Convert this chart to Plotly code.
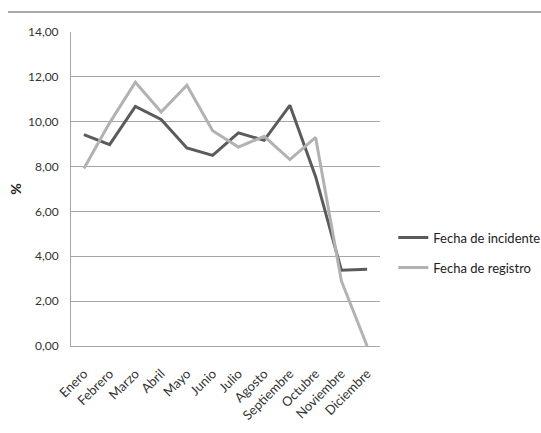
import plotly.graph_objects as go

meses = ["Enero", "Febrero", "Marzo", "Abril", "Mayo", "Junio", "Julio",
         "Agosto", "Septiembre", "Octubre", "Noviembre", "Diciembre"]
fecha_incidente = [9.42, 8.98, 10.68, 10.10, 8.83, 8.50, 9.50, 9.17, 10.73, 7.55, 3.38, 3.42]
fecha_registro = [7.91, 9.95, 11.76, 10.43, 11.63, 9.60, 8.87, 9.35, 8.31, 9.30, 2.90, 0.00]
y_ticks = [0, 2, 4, 6, 8, 10, 12, 14]
y_tick_text = ["0,00", "2,00", "4,00", "6,00", "8,00", "10,00", "12,00", "14,00"]

FONT = "Lato, Open Sans, sans-serif"

fig = go.Figure()
fig.add_trace(go.Scatter(x=meses, y=fecha_incidente, mode="lines",
                         name="Fecha de incidente", legendgroup="a",
                         line=dict(color="#5b5b5b", width=3)))
fig.add_trace(go.Scatter(x=meses, y=fecha_registro, mode="lines",
                         name="Fecha de registro", legendgroup="b",
                         line=dict(color="#b2b2b2", width=3)))

# thin rule across the top of the page
fig.add_shape(type="line", xref="paper", yref="paper",
              x0=-0.204, x1=1.53, y0=1.064, y1=1.064,
              line=dict(color="#8c8c8c", width=1.5))

fig.update_layout(
    width=541, height=433,
    margin=dict(l=71, r=161, t=32, b=87, autoexpand=False),
    paper_bgcolor="white", plot_bgcolor="white",
    font=dict(family=FONT, size=13, color="#333333"),
    showlegend=True,
    legend=dict(x=1.043, y=0.393, xanchor="left", yanchor="top",
                tracegroupgap=10, itemwidth=30,
                font=dict(family=FONT, size=13, color="#222222")),
    xaxis=dict(type="category", tickangle=-45, showgrid=False,
               showline=True, linecolor="#a6a6a6", linewidth=1,
               ticks="", range=[-0.5, 11.5], ticklabelstandoff=14,
               tickfont=dict(family=FONT, size=13, color="#333333")),
    yaxis=dict(range=[0, 14], tickvals=y_ticks, ticktext=y_tick_text,
               showgrid=True, gridcolor="#a6a6a6", gridwidth=1,
               showline=True, linecolor="#a6a6a6", linewidth=1,
               zeroline=False, ticks="", ticklen=0, ticklabelstandoff=9,
               title=dict(text="<b>%</b>", standoff=3,
                          font=dict(family=FONT, size=14, color="#222222")),
               tickfont=dict(family=FONT, size=12, color="#333333")),
)

fig.write_html("out.html")
